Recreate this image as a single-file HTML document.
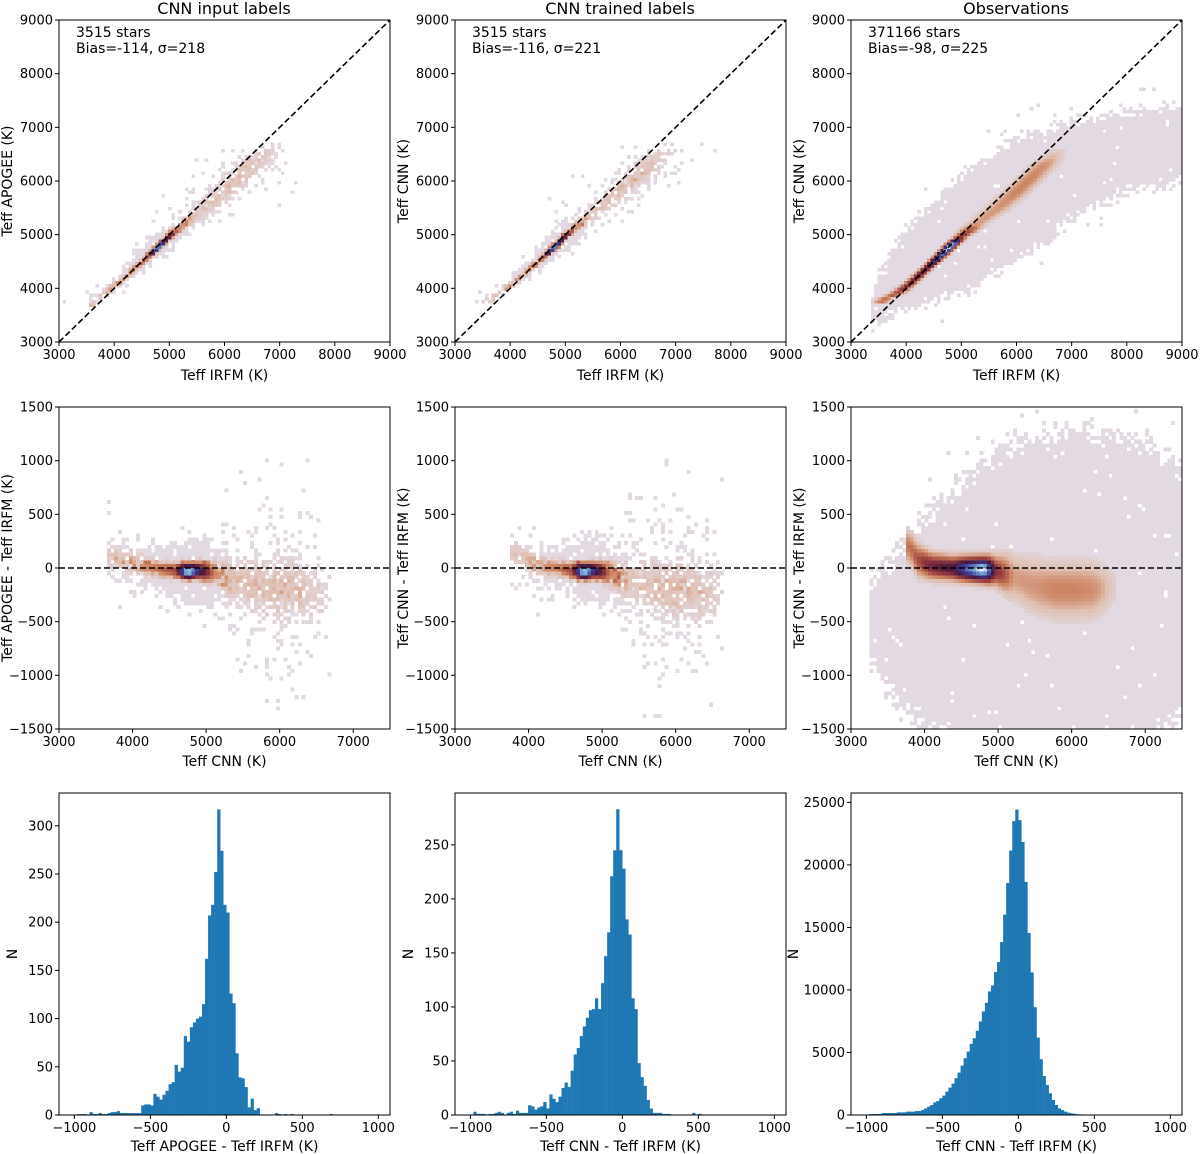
<!DOCTYPE html>
<html><head><meta charset="utf-8"><style>
html,body{margin:0;padding:0;background:#fff;}
svg{display:block;font-family:"DejaVu Sans","Liberation Sans",sans-serif;}
</style></head><body>
<svg id="fig" width="1200" height="1154" viewBox="0 0 1200 1154" xmlns="http://www.w3.org/2000/svg"></svg>
<script>
// ---------- histogram data (bins of 20 K from -1000 to 1000) ----------
const histEdgesStart = -1000;
const histBinWidth = 20;
const histInput = [0,1,1,1,0,3,1,1,2,1,1,2,3,3,4,2,2,2,2,2,2,2,10,11,11,10,22,19,16,21,25,32,34,52,45,49,82,76,91,96,100,102,115,162,207,218,252,317,274,218,210,126,116,64,39,38,29,8,17,5,7,0,0,0,0,0,2,1,0,1,0,1,0,0,0,0,0,0,0,0,0,0,0,0,1,0,0,0,0,0,0,0,0,0,0,0,0,0,0,0];
const histTrained = [0,3,1,1,1,0,1,1,2,3,2,0,2,3,1,4,2,2,2,9,8,5,7,8,12,6,19,15,12,17,25,30,26,41,56,62,73,82,90,97,98,108,98,122,147,169,221,245,283,245,228,181,167,108,98,48,35,27,14,6,2,2,2,1,1,1,0,0,0,0,0,0,0,2,0,1,0,0,0,0,0,0,0,0,0,0,0,0,0,0,0,0,0,0,0,0,0,0,0,0];
const histObs = [30,80,80,80,80,160,160,160,160,160,210,210,210,270,270,270,320,320,400,530,670,800,1010,1120,1340,1550,1870,2190,2510,2940,3390,3950,4540,5070,5690,6140,6730,7480,8280,8970,9880,10360,11430,12230,13830,16020,18560,21150,23500,24430,23580,21840,18640,14550,11400,8620,6190,4460,3120,2400,1740,1200,800,530,400,270,190,130,100,60,50,40,30,20,10,10,10,10,10,0,0,0,0,0,0,0,0,0,0,0,0,0,0,0,0,0,0,0,0,0];
const histYTicks1 = [0,50,100,150,200,250,300];
const histYTicks2 = [0,50,100,150,200,250];
const histYTicks3 = [0,5000,10000,15000,20000,25000];
const histXTicks = [-1000,-500,0,500,1000];
// ---------- 2D density ridge knots (Teff CNN/APOGEE, residual vs IRFM) ----------
const ridgeT1 = [3700,4000,4300,4600,4750,4900,5100,5400,5700,6000,6300,6500,6650];
const ridgeOff1 = [100,50,0,-20,-30,-20,-40,-120,-180,-200,-200,-200,-200];
const ridgeSig1 = [60,50,40,40,40,40,60,110,140,150,150,150,150];
const ridgeCnt1 = [2,4,9,16,80,40,8,2,2.2,2.6,2.2,1.2,0.3];
const ridgeT2 = [3800,4100,4400,4600,4750,4900,5100,5400,5700,6000,6300,6500,6650];
const ridgeOff2 = [150,30,0,-20,-30,-20,-40,-110,-170,-200,-220,-220,-220];
const ridgeSig2 = [60,50,40,40,40,40,60,110,140,150,150,150,150];
const ridgeCnt2 = [1.5,4,9,16,80,40,8,2,2.2,2.6,2.2,1.2,0.3];
const ridgeT3 = [3800,3900,4100,4400,4700,4800,4950,5200,5500,5800,6000,6300,6450,6550];
const ridgeOff3 = [200,80,20,0,-10,-10,-20,-80,-170,-200,-200,-200,-190,-170];
const ridgeSig3 = [70,70,55,50,50,50,60,100,120,120,120,120,110,100];
const ridgeCnt3 = [25,40,90,130,400,500,80,12,14,20,20,16,7,2];
// observation envelopes
const envRes_T = [3300,3700,4000,4500,5000,6000,7000,7500];
const envRes_lo = [-900,-1300,-1500,-1600,-1600,-1600,-1600,-1400];
const envRes_hi = [-100,200,450,800,1100,1300,1200,900];
const envTT_x = [3400,3500,4000,5000,6000,7000,8000,9000];
const envTT_lo = [3400,3400,3600,3900,4500,5300,5800,6000];
const envTT_hi = [3900,4300,5100,6100,6800,7100,7300,7400];
const teffTicks = [3000,4000,5000,6000,7000,8000,9000];
const resXTicks = [3000,4000,5000,6000,7000];
const resYTicks = [-1500,-1000,-500,0,500,1000,1500];

const NS = "http://www.w3.org/2000/svg";
const svg = document.getElementById('fig');
function el(tag, attrs, parent){const e=document.createElementNS(NS,tag);for(const k in attrs)e.setAttribute(k,attrs[k]);(parent||svg).appendChild(e);return e;}
const colX = [59,455,851], rowY = [20,407,793], PW = 331, PH = 322;

function interp(xs, ys, x){
  if(x<=xs[0])return ys[0]; if(x>=xs[xs.length-1])return ys[ys.length-1];
  for(let i=0;i<xs.length-1;i++){if(x<=xs[i+1]){const t=(x-xs[i])/(xs[i+1]-xs[i]);return ys[i]+t*(ys[i+1]-ys[i]);}}
}
function hash(i,j,s){let h=(i*374761393+j*668265263+s*982451653)>>>0;h=Math.imul(h^(h>>>13),1274126177)>>>0;h=(h^(h>>>16))>>>0;return h/4294967296;}
const stops=[[0,[226,217,226]],[0.3,[224,192,178]],[0.5,[203,128,92]],[0.65,[152,60,62]],[0.78,[72,22,62]],[0.88,[62,62,152]],[0.95,[115,165,212]],[1,[255,255,255]]];
function cmap(t){t=Math.max(0,Math.min(1,t));for(let i=0;i<stops.length-1;i++){if(t<=stops[i+1][0]){const a=stops[i],b=stops[i+1];const f=(t-a[0])/(b[0]-a[0]);const c=a[1].map((v,k)=>Math.round(v+f*(b[1][k]-v)));return `rgb(${c[0]},${c[1]},${c[2]})`;}}return 'rgb(255,255,255)';}

function density(T, r, rt, ro, rs, rc){
  if(T<rt[0]-60||T>rt[rt.length-1]+60)return {d:0,h:0};
  const off=interp(rt,ro,T), sg=interp(rt,rs,T), c=interp(rt,rc,T);
  const z=(r-off)/sg;
  return {d:c*Math.exp(-0.5*z*z), h:Math.min(0.9,0.14*c*Math.exp(-0.5*(z/3.2)*(z/3.2)))};
}

function axes(g, x0, y0, xr, yr, xticks, yticks, fmt){
  const sx=v=>x0+(v-xr[0])/(xr[1]-xr[0])*PW, sy=v=>y0+PH-(v-yr[0])/(yr[1]-yr[0])*PH;
  const frame=el('rect',{x:x0,y:y0,width:PW,height:PH,fill:'none',stroke:'#000','stroke-width':1},g);
  
  
  xticks.forEach(v=>{const X=sx(v);
    const t=el('line',{x1:X,x2:X,y1:y0+PH,y2:y0+PH+4,stroke:'#000'},g);
    
    
    const l=el('text',{x:X,y:y0+PH+17,'font-size':13,'text-anchor':'middle'},g);l.textContent=fmt?fmt(v):String(v);
    
    });
  yticks.forEach(v=>{const Y=sy(v);
    const t=el('line',{x1:x0-4,x2:x0,y1:Y,y2:Y,stroke:'#000'},g);
    
    
    const l=el('text',{x:x0-6,y:Y+4.5,'font-size':13,'text-anchor':'end'},g);l.textContent=(v<0?'\u2212'+(-v):String(v));
    
    });
  return {sx,sy};
}
function label(x,y,txt,rot,size,name){
  const t=el('text',{x:x,y:y,'font-size':size||14,'text-anchor':'middle'});
  if(rot)t.setAttribute('transform',`rotate(-90 ${x} ${y})`);
  t.textContent=txt;
  
  
}

const ridges=[[ridgeT1,ridgeOff1,ridgeSig1,ridgeCnt1],[ridgeT2,ridgeOff2,ridgeSig2,ridgeCnt2],[ridgeT3,ridgeOff3,ridgeSig3,ridgeCnt3]];

function heatPanel(col,row){
  const g=el('g',{});
  
  
  const x0=colX[col], y0=rowY[row];
  const xr=row===0?[3000,9000]:[3000,7500], yr=row===0?[3000,9000]:[-1500,1500];
  const dx=row===0?60:50, dy=row===0?60:35;
  const sx=v=>x0+(v-xr[0])/(xr[1]-xr[0])*PW, sy=v=>y0+PH-(v-yr[0])/(yr[1]-yr[0])*PH;
  const [rt,ro,rs,rc]=ridges[col]; const dmax=Math.max(...rc);
  const sparse=col<2;
  const cg=el('g',{'shape-rendering':'crispEdges'},g);
  const nx=Math.round((xr[1]-xr[0])/dx), ny=Math.round((yr[1]-yr[0])/dy);
  for(let i=0;i<nx;i++)for(let j=0;j<ny;j++){
    const xd=xr[0]+(i+0.5)*dx, yd=yr[0]+(j+0.5)*dy;
    let T,r; if(row===0){T=yd;r=yd-xd;}else{T=xd;r=yd;}
    const m=density(T,r,rt,ro,rs,rc);
    const hsh=hash(i,j,col*7+row), h2=hash(j,i,col*13+row+5);
    let on=false, t=0;
    if(sparse){
      if(m.d>6){on=true;}
      else if(m.d>0.2 && h2<1-Math.exp(-m.d*0.9)){on=true;}
      if(on) t=Math.log(1+m.d)/Math.log(1+dmax)*(m.d>6?1:(0.5+0.9*hash(i+3,j+7,col)));
      if(!on && hsh<m.h){on=true;t=0;}
    } else {
      if(m.d>0.6){on=true;t=Math.log(1+m.d)/Math.log(1+dmax);}
    }
    let draw=on;
    if(col===2){
      let lo,hi,ok=false;
      if(row===1){ if(xd>=envRes_T[0]-60){lo=interp(envRes_T,envRes_lo,xd);hi=interp(envRes_T,envRes_hi,xd);ok=true;} }
      else { if(xd>=envTT_x[0]-60){lo=interp(envTT_x,envTT_lo,xd);hi=interp(envTT_x,envTT_hi,xd);ok=true;} }
      if(ok){const dist=Math.min(yd-lo,hi-yd); const p=Math.max(0,Math.min(1,0.5+dist/300)); if(hsh<p*0.97)draw=true; else if(dist>-500 && hsh>0.985)draw=true;}
    }
    if(!draw)continue;
    const X=sx(xd-dx/2), Y=sy(yd+dy/2);
    const c=el('rect',{x:X.toFixed(2),y:Y.toFixed(2),width:(dx/(xr[1]-xr[0])*PW+0.3).toFixed(2),height:(dy/(yr[1]-yr[0])*PH+0.3).toFixed(2),fill:cmap(t)},cg);
    
    
  }
  let ln;
  if(row===0) ln=el('line',{x1:sx(3000),y1:sy(3000),x2:sx(9000),y2:sy(9000),stroke:'#000','stroke-width':1.6,'stroke-dasharray':'6,3'},g);
  else ln=el('line',{x1:x0,y1:sy(0),x2:x0+PW,y2:sy(0),stroke:'#000','stroke-width':1.6,'stroke-dasharray':'6,3'},g);
  
  
  axes(g,x0,y0,xr,yr,row===0?teffTicks:resXTicks,row===0?teffTicks:resYTicks);
}

function histPanel(col,data,yticks,ymax){
  const g=el('g',{});
  
  
  const x0=colX[col], y0=rowY[2];
  const xr=[-1101,1077], yr=[0,ymax];
  const sx=v=>x0+(v-xr[0])/(xr[1]-xr[0])*PW, sy=v=>y0+PH-(v-yr[0])/(yr[1]-yr[0])*PH;
  data.forEach((v,i)=>{ if(v<=0)return;
    const a=histEdgesStart+i*histBinWidth, b=a+histBinWidth;
    const r=el('rect',{x:sx(a).toFixed(2),y:sy(v).toFixed(2),width:(sx(b)-sx(a)+0.2).toFixed(2),height:(sy(0)-sy(v)).toFixed(2),fill:'#1f77b4'},g);
    
    
  });
  axes(g,x0,y0,xr,yr,histXTicks,yticks,v=>v<0?'\u2212'+(-v):String(v));
}

for(let c=0;c<3;c++){heatPanel(c,0);heatPanel(c,1);}
histPanel(0,histInput,histYTicks1,334);
histPanel(1,histTrained,histYTicks2,298);
histPanel(2,histObs,histYTicks3,25750);

label(224,14,'CNN input labels',false,16,'title-cnn-input-labels');
label(620,14,'CNN trained labels',false,16,'title-cnn-trained-labels');
label(1016,14,'Observations',false,16,'title-observations');
const ann=[['3515 stars','Bias=-114, σ=218'],['3515 stars','Bias=-116, σ=221'],['371166 stars','Bias=-98, σ=225']];
ann.forEach((a,i)=>{
  const t1=el('text',{x:colX[i]+17,y:37,'font-size':14});t1.textContent=a[0];
  
  
  const t2=el('text',{x:colX[i]+17,y:53,'font-size':14});t2.textContent=a[1];
  
  
});
for(let c=0;c<3;c++){
  const cx=colX[c]+PW/2;
  label(cx,380,'Teff IRFM (K)',false,14,'x-axis-title-teff-irfm');
  label(cx,766,'Teff CNN (K)',false,14,'x-axis-title-teff-cnn');
  label(cx,1151,c===0?'Teff APOGEE - Teff IRFM (K)':'Teff CNN - Teff IRFM (K)',false,14,'x-axis-title-residual');
  label(colX[c]-47,rowY[0]+PH/2,c===0?'Teff APOGEE (K)':'Teff CNN (K)',true,14,'y-axis-title-teff');
  label(colX[c]-47,rowY[1]+PH/2,c===0?'Teff APOGEE - Teff IRFM (K)':'Teff CNN - Teff IRFM (K)',true,14,'y-axis-title-residual');
  label(colX[c]-(c===2?53:42),rowY[2]+PH/2,'N',true,14,'y-axis-title-count');
}
</script>
</body></html>
